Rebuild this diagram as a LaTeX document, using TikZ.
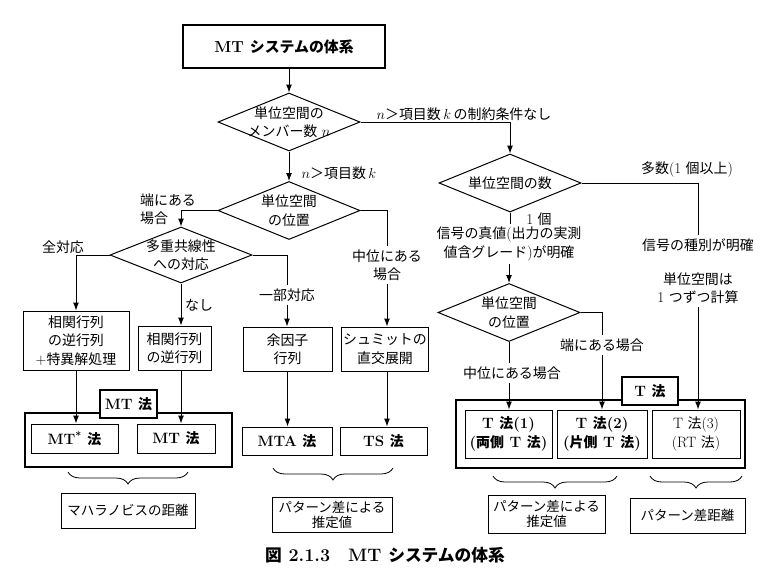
\documentclass[tikz,border=0pt]{standalone}
\usepackage{fontspec}
\usetikzlibrary{shapes.geometric,arrows.meta,decorations.pathreplacing}
\newfontfamily\jfont[Scale=0.93]{Noto Sans CJK JP}
\newcommand{\ja}[1]{{\jfont #1}}

\begin{document}
\begin{tikzpicture} [x = 1pt, y = -1pt,
    font = \fontsize{15}{18.5}\selectfont,
    box/.style = {draw,
        align = center,
        inner xsep = 2pt,
        line width = 1pt},
    result/.style = {box,
        font = \fontsize{15}{18.5}\selectfont\bfseries},
    decision/.style = {draw,
        diamond,
        minimum width = 142pt,
        minimum height = 58pt,
        line width = 1pt,
        label = {[align=center]center:#1}},
    groupframe/.style = {draw, line width = 1.4pt},
    methodtag/.style = {draw,
        fill = white,
        line width = 1.4pt,
        minimum height = 28pt,
        font = \fontsize{15}{16}\selectfont\bfseries},
    cond/.style = {align = center, inner sep = 3pt},
    flow/.style = {line width = 1pt, -{Latex[length=8pt, width=6pt]}},
    link/.style = {line width = 1pt},
    bracket/.style = {decorate, line width = 0.8pt,
        decoration = {brace, mirror, amplitude = 12pt}}]

\useasboundingbox (0,0) rectangle (765,573);

% top of the chart
\node (title) at (284,46.5) [box, line width = 1.8pt, minimum width = 202pt, minimum height = 43pt,
    font = \fontsize{16}{18}\selectfont\bfseries] {MT \ja{システムの体系}};
\node (size) at (289,122) [decision = {\ja{単位空間の}\\\ja{メンバー数} $n$}] {};
\node (pos) at (289,210.5) [decision = {\ja{単位空間}\\\ja{の位置}}] {};
\node (colin) at (181,255) [decision = {\ja{多重共線性}\\\ja{への対応}}, minimum height = 56pt] {};
\node (count) at (510,183) [decision = {\ja{単位空間の数}}] {};
\node (tpos) at (509,312.5) [decision = {\ja{単位空間}\\\ja{の位置}}] {};

% left branch
\node (inv2) at (76,340.5) [box, minimum width = 106pt, minimum height = 59pt] {\ja{相関行列}\\\ja{の逆行列}\\+\ja{特異解処理}};
\node (inv) at (174.5,348) [box, minimum width = 73pt, minimum height = 44pt] {\ja{相関行列}\\\ja{の逆行列}};
\node (cof) at (287.5,349) [box, minimum width = 89pt, minimum height = 44pt] {\ja{余因子}\\\ja{行列}};
\node (gs) at (385,349) [box, minimum width = 86pt, minimum height = 44pt] {\ja{シュミットの}\\\ja{直交展開}};

\node (mtframe) at (128.5,440) [groupframe, minimum width = 207pt, minimum height = 54pt] {};
\node (mttag) at (128.5,404) [methodtag, minimum width = 57pt] {MT \ja{法}};
\node (mtstar) at (74.5,438.5) [result, minimum width = 87pt, minimum height = 29pt] {MT\textsuperscript{*} \ja{法}};
\node (mt) at (176,438.5) [result, minimum width = 78pt, minimum height = 29pt] {MT \ja{法}};
\node (mta) at (287,441) [result, minimum width = 90pt, minimum height = 28pt] {MTA \ja{法}};
\node (ts) at (383.5,441) [result, minimum width = 87pt, minimum height = 28pt] {TS \ja{法}};

\node (maha) at (128,510.5) [box, minimum width = 134pt, minimum height = 35pt,
    font = \fontsize{14.5}{15}\selectfont] {\ja{マハラノビスの距離}};
\node (est) at (332,514.5) [box, minimum width = 120pt, minimum height = 35pt,
    font = \fontsize{14.5}{15}\selectfont] {\ja{パターン差による}\\\ja{推定値}};

% right branch
\node (tframe) at (600.5,434) [groupframe, minimum width = 289pt, minimum height = 68pt] {};
\node (ttag) at (650,391) [methodtag, minimum width = 56pt] {T \ja{法}};
\node (t1) at (508.5,434) [result, minimum width = 87pt, minimum height = 48pt] {T \ja{法}(1)\\(\ja{両側} T \ja{法})};
\node (t2) at (602,434) [result, minimum width = 90pt, minimum height = 48pt] {T \ja{法}(2)\\(\ja{片側} T \ja{法})};
\node (t3) at (696,434) [box, minimum width = 88pt, minimum height = 48pt] {T \ja{法}(3)\\(RT \ja{法})};

\node (est2) at (546.5,514) [box, minimum width = 117pt, minimum height = 38pt,
    font = \fontsize{14.5}{15}\selectfont] {\ja{パターン差による}\\\ja{推定値}};
\node (dist) at (687.5,515.5) [box, minimum width = 115pt, minimum height = 35pt,
    font = \fontsize{14.5}{15}\selectfont] {\ja{パターン差距離}};

% conditions
\node (nolimit) at (464,114) [cond] {$n$\ja{＞項目数}\,$k$\,\ja{の制約条件なし}};
\node (nk) at (339,173) [cond] {$n$\ja{＞項目数}\,$k$};
\node (edge) at (168,209) [cond, align = left] {\ja{端にある}\\\ja{場合}};
\node (mid) at (387,265) [cond] {\ja{中位にある}\\\ja{場合}};
\node (all) at (63,247) [cond] {\ja{全対応}};
\node (none) at (199,305) [cond] {\ja{なし}};
\node (part) at (287,295) [cond] {\ja{一部対応}};
\node (many) at (687,169) [cond] {\ja{多数}(1 \ja{個以上})};
\node (one) at (539,219) [cond] {1 \ja{個}};
\node (truth) at (509,244) [cond] {\ja{信号の真値}(\ja{出力の実測}\\\ja{値含グレード})\ja{が明確}};
\node (kind) at (698,245) [cond] {\ja{信号の種別が明確}};
\node (each) at (698,288) [cond] {\ja{単位空間は}\\1 \ja{つずつ計算}};
\node (tedge) at (602,345) [cond] {\ja{端にある場合}};
\node (tmid) at (512,373) [cond] {\ja{中位にある場合}};

% connectors
\draw [flow] (title.south -| size.north) -- (size.north);
\draw [flow] (size.east) -| (count.north);
\draw [flow] (size) -- (pos);
\draw [flow] (pos.west) -| (colin.north);
\draw [link] (pos.east) -| (mid.north);
\draw [flow] (mid.south) -- (mid.south |- gs.north);
\draw [flow] (colin.west) -| (inv2.north);
\draw [flow] (colin.south) -- (colin.south |- inv.north);
\draw [link] (colin.east) -| (part.north);
\draw [flow] (part.south) -- (part.south |- cof.north);
\draw [flow] (inv2) -- (inv2 |- mtstar.north);
\draw [flow] (inv.south -| colin.south) -- (colin.south |- mt.north);
\draw [flow] (cof) -- (cof |- mta.north);
\draw [flow] (gs.south -| mid.south) -- (mid.south |- ts.north);

\draw [link] (count.east) -| (kind.north);
\draw [flow] (each.south) -- (each.south |- t3.north);
\draw [link] (count.south) -- (count.south |- truth.north);
\draw [flow] (truth.south -| tpos.north) -- (tpos.north);
\draw [link] (tpos.east) -| (tedge.north);
\draw [flow] (tedge.south) -- (tedge.south |- t2.north);
\draw [link] (tpos.south) -- (tpos.south |- tmid.north);
\draw [flow] (tmid.south -| tpos.south) -- (tpos.south |- t1.north);

% braces
\draw [bracket] (68,472) -- (188,472);
\draw [bracket] (273,468) -- (393,468);
\draw [bracket] (493,476) -- (617,476);
\draw [bracket] (650,476) -- (742,476);

\node (caption) at (385,555) [font = \fontsize{18}{20}\selectfont\bfseries] {\ja{図} 2.1.3\quad MT \ja{システムの体系}};

\end{tikzpicture}
\end{document}
